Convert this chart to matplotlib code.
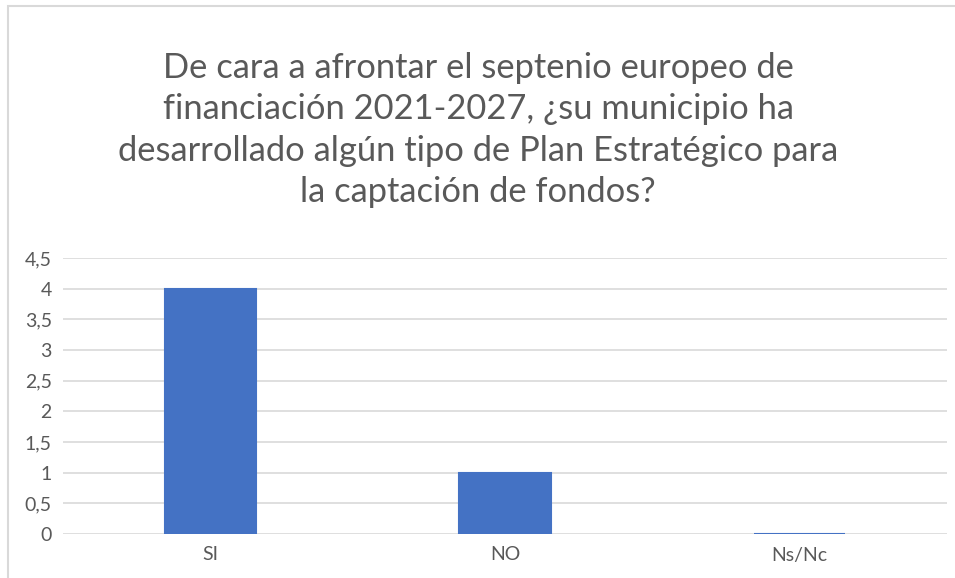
import matplotlib
matplotlib.use("Agg")
import matplotlib.pyplot as plt
from matplotlib.patches import Rectangle

categories = ["SI", "NO", "Ns/Nc"]
values = [4, 1, 0]
yticks = [0, 0.5, 1, 1.5, 2, 2.5, 3, 3.5, 4, 4.5]
ytick_labels = ["0", "0,5", "1", "1,5", "2", "2,5", "3", "3,5", "4", "4,5"]
title = ("De cara a afrontar el septenio europeo de\n"
         "financiación 2021-2027, ¿su municipio ha\n"
         "desarrollado algún tipo de Plan Estratégico para\n"
         "la captación de fondos?")

W, H = 955, 578
plt.rcParams['font.family'] = ['Lato', 'DejaVu Sans']
fig = plt.figure(figsize=(W / 100, H / 100), dpi=100)
fig.patch.set_facecolor("white")

# chart border
fig.patches.append(Rectangle((8 / W, -0.1), 1.2, 1 - 6 / H + 0.1,
                             transform=fig.transFigure, fill=False,
                             edgecolor="#d9d9d9", linewidth=1.5))

ax = fig.add_axes([63 / W, (H - 534) / H, (947 - 63) / W, (534 - 258) / H])
x = range(len(categories))
ax.bar(x, values, width=0.31, color="#4472c4", edgecolor="#4472c4",
       linewidth=1.5, zorder=3)
ax.set_xlim(-0.5, len(categories) - 0.5)
ax.set_ylim(0, 4.5)
ax.set_yticks(yticks)
ax.set_yticklabels(ytick_labels)
ax.set_xticks(list(x))
ax.set_xticklabels(categories)
for s in ax.spines.values():
    s.set_visible(False)
ax.grid(axis="y", color="#d9d9d9", linewidth=1.2, zorder=0)
ax.tick_params(axis="both", length=0, labelsize=14, colors="#595959")
ax.tick_params(axis="y", pad=8)
ax.tick_params(axis="x", pad=9)

fig.text(478 / W, 1 - 130 / H, title, ha="center", va="center",
         fontsize=24.8, color="#595959", linespacing=1.36)

fig.savefig("out.png", dpi=100)
